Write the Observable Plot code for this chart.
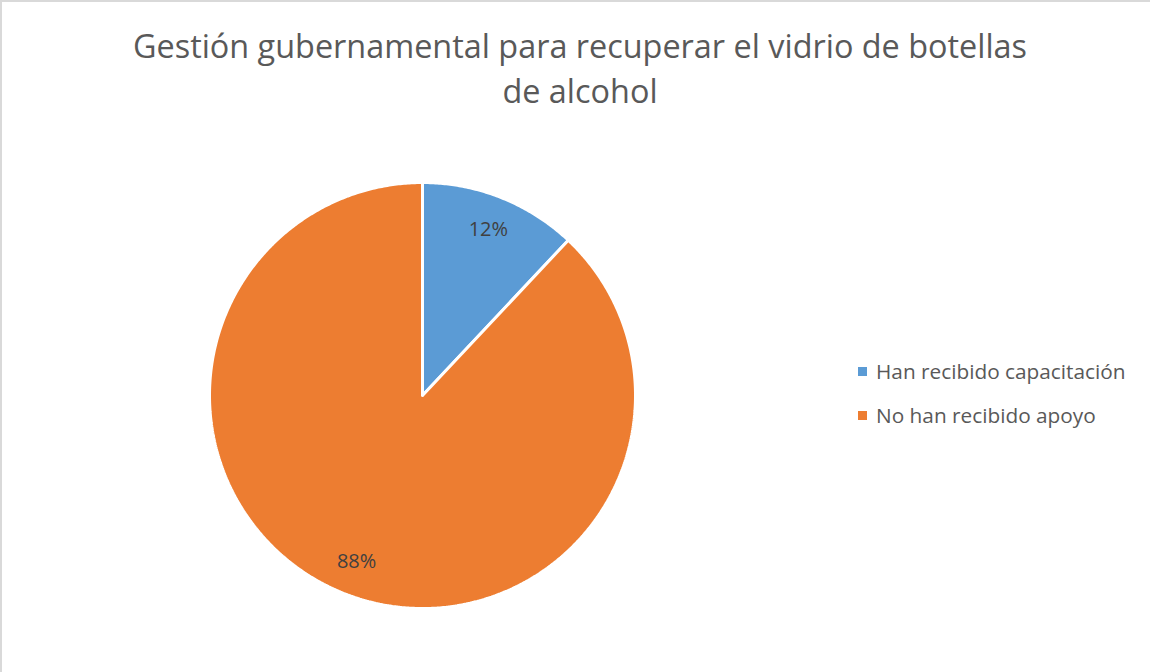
<!DOCTYPE html>
<html>
<head>
<meta charset="utf-8">
<script src="https://cdn.jsdelivr.net/npm/d3@7"></script>
<script src="https://cdn.jsdelivr.net/npm/@observablehq/plot@0.6"></script>
<style>
  html, body { margin: 0; padding: 0; background: #fff; }
  #frame { position: relative; width: 1150px; height: 672px; box-sizing: border-box; border-top: 2px solid #d9d9d9; border-left: 2px solid #d9d9d9; overflow: hidden; font-family: "Open Sans", "Liberation Sans", sans-serif; }
  #title { position: absolute; left: 0; top: 21px; width: 1156px; text-align: center; font-size: 32.4px; line-height: 45px; color: #595959; }
  #chart { position: absolute; left: -2px; top: 118px; }
  #legend { position: absolute; left: 856px; top: 347px; font-size: 20.8px; color: #595959; }
  .item { display: flex; align-items: center; height: 44px; }
  .sw { width: 9px; height: 9px; margin-right: 9px; }
</style>
</head>
<body>
<div id="frame">
  <div id="title">Gestión gubernamental para recuperar el vidrio de botellas<br>de alcohol</div>
  <div id="chart"></div>
  <div id="legend"></div>
</div>
<script>
const categories = ["Han recibido capacitación", "No han recibido apoyo"];
const values = [12, 88];
const labels = ["12%", "88%"];
const colors = ["#5b9bd5", "#ed7d31"];

const arcs = d3.pie().sort(null)(values);
const slicePoints = [];
arcs.forEach((a, i) => {
  const cat = categories[i];
  slicePoints.push({cat, x: 0, y: 0});
  const n = Math.max(2, Math.ceil((a.endAngle - a.startAngle) / (Math.PI / 360)));
  for (let k = 0; k <= n; k++) {
    const t = a.startAngle + (a.endAngle - a.startAngle) * k / n;
    slicePoints.push({cat, x: Math.sin(t), y: Math.cos(t)});
  }
  slicePoints.push({cat, x: 0, y: 0});
});
const labelPoints = arcs.map((a, i) => {
  const m = (a.startAngle + a.endAngle) / 2;
  return {text: labels[i], x: 0.84 * Math.sin(m), y: 0.84 * Math.cos(m)};
});

const cx = 422, cy = 275, r = 213;
const chart = Plot.plot({
  width: 1150,
  height: 554,
  margin: 0,
  style: {fontFamily: '"Open Sans", "Liberation Sans", sans-serif', background: "transparent"},
  x: {domain: [-1, 1], range: [cx - r, cx + r], axis: null},
  y: {domain: [-1, 1], range: [cy + r, cy - r], axis: null},
  color: {domain: categories, range: colors},
  marks: [
    Plot.line(slicePoints, {x: "x", y: "y", z: "cat", fill: "cat", stroke: "white", strokeWidth: 3, strokeLinejoin: "miter", curve: "linear"}),
    Plot.text(labelPoints, {x: "x", y: "y", text: "text", fontSize: 20, fill: "#404040"})
  ]
});
document.getElementById("chart").appendChild(chart);

const legend = document.getElementById("legend");
categories.forEach((c, i) => {
  const row = document.createElement("div");
  row.className = "item";
  const sw = document.createElement("span");
  sw.className = "sw";
  sw.style.background = colors[i];
  const tx = document.createElement("span");
  tx.textContent = c;
  row.appendChild(sw);
  row.appendChild(tx);
  legend.appendChild(row);
});
</script>
</body>
</html>
